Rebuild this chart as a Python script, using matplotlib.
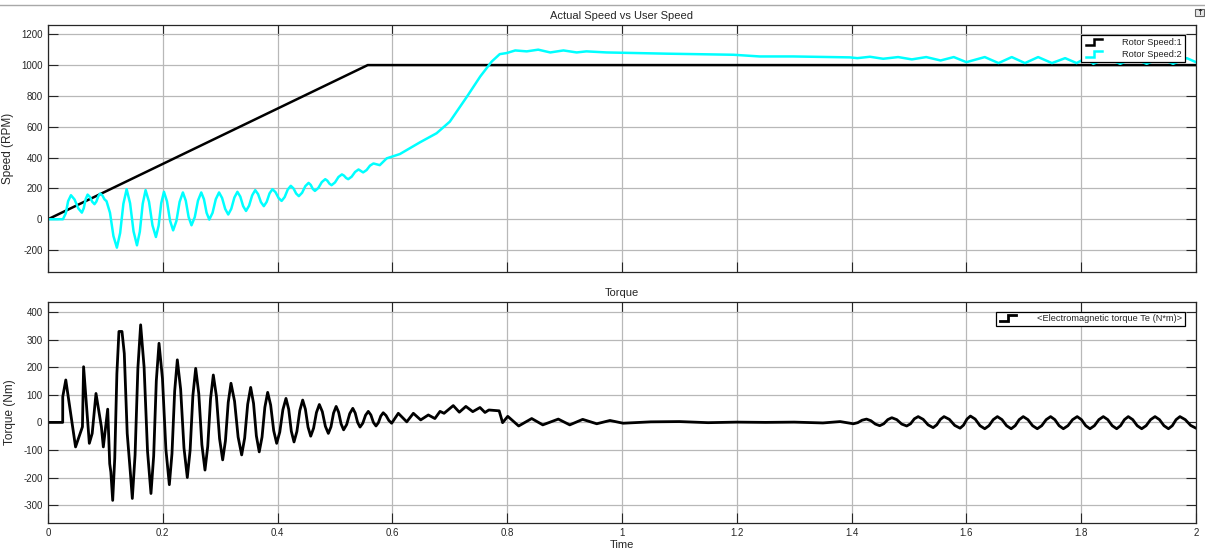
import matplotlib
matplotlib.use("Agg")
import matplotlib.pyplot as plt
from matplotlib.lines import Line2D
from matplotlib.patches import Rectangle
from matplotlib.legend_handler import HandlerBase

# ---------------- data ----------------
ref_t = [0.0, 0.557, 2.0]
ref_speed = [0, 1000, 1000]

speed_t = [0.0, 0.026, 0.031, 0.035, 0.040, 0.0463, 0.0527, 0.059, 0.0623, 0.0657,
           0.069, 0.073, 0.077, 0.081, 0.0843, 0.0877, 0.091, 0.0947, 0.0983, 0.102,
           0.108, 0.114, 0.120, 0.1257, 0.1313, 0.137, 0.143, 0.149, 0.155, 0.160,
           0.165, 0.170, 0.176, 0.182, 0.188, 0.1927, 0.1973, 0.202, 0.2073, 0.2127,
           0.218, 0.2237, 0.2293, 0.235, 0.240, 0.245, 0.250, 0.2557, 0.2613, 0.267,
           0.2717, 0.2763, 0.281, 0.2867, 0.2923, 0.298, 0.3033, 0.3087, 0.314, 0.3193,
           0.3247, 0.330, 0.335, 0.340, 0.345, 0.3503, 0.3557, 0.361, 0.366, 0.371,
           0.376, 0.381, 0.386, 0.391, 0.3963, 0.4017, 0.407, 0.4123, 0.4177, 0.423,
           0.4277, 0.4323, 0.437, 0.4427, 0.4483, 0.454, 0.4577, 0.4613, 0.465, 0.471,
           0.477, 0.483, 0.4867, 0.4903, 0.494, 0.500, 0.506, 0.512, 0.5157, 0.5193,
           0.523, 0.529, 0.535, 0.541, 0.549, 0.555, 0.561, 0.567, 0.578, 0.590,
           0.613, 0.625, 0.648, 0.677, 0.700, 0.730, 0.753, 0.773, 0.787, 0.799,
           0.814, 0.834, 0.854, 0.875, 0.898, 0.921, 0.938, 0.973, 1.078, 1.194,
           1.240, 1.298, 1.397, 1.410, 1.432, 1.455, 1.481, 1.505, 1.530, 1.555,
           1.578, 1.600, 1.632, 1.656, 1.679, 1.702, 1.725, 1.749, 1.772, 1.792,
           1.808, 1.821, 1.845, 1.868, 1.891, 1.914, 1.937, 1.960, 1.984, 2.000]
speed_rpm = [0, 0, 39, 117, 156, 128, 71, 43, 72, 131,
             160, 145, 114, 98, 115, 150, 167, 155, 130, 117,
             42, -109, -184, -89, 100, 195, 104, -78, -169, -80,
             100, 189, 113, -39, -115, -42, 105, 178, 116, -10,
             -72, -11, 113, 174, 121, 14, -39, 14, 121, 174,
             130, 42, -2, 42, 130, 174, 138, 67, 31, 68,
             141, 178, 147, 85, 54, 88, 155, 189, 163, 111,
             85, 113, 168, 195, 176, 138, 119, 144, 193, 217,
             200, 167, 150, 172, 215, 236, 223, 197, 184, 203,
             241, 260, 250, 231, 221, 239, 274, 291, 283, 268,
             260, 276, 307, 323, 304, 319, 348, 362, 351, 395,
             423, 449, 499, 558, 633, 796, 926, 1023, 1071, 1078,
             1095, 1089, 1100, 1082, 1095, 1082, 1089, 1082, 1074, 1067,
             1056, 1056, 1050, 1045, 1054, 1041, 1052, 1037, 1052, 1030,
             1052, 1019, 1052, 1013, 1052, 1013, 1052, 1013, 1045, 1013,
             1045, 1008, 1045, 1008, 1045, 1008, 1045, 1008, 1045, 1019]

torque_t = [0.0, 0.0256, 0.0257, 0.031, 0.048, 0.060, 0.0615, 0.062, 0.072, 0.077,
            0.0836, 0.093, 0.0964, 0.104, 0.1075, 0.1095, 0.1127, 0.1163, 0.1200, 0.1236,
            0.1289, 0.1329, 0.138, 0.1434, 0.1469, 0.1517, 0.1566, 0.1614, 0.1674, 0.1734,
            0.1794, 0.1841, 0.1887, 0.1934, 0.1994, 0.2054, 0.2114, 0.2160, 0.2207, 0.2253,
            0.2311, 0.2369, 0.2427, 0.2476, 0.2524, 0.2573, 0.2627, 0.2681, 0.2735, 0.2783,
            0.2832, 0.288, 0.2934, 0.2989, 0.3043, 0.3091, 0.3140, 0.3188, 0.3250, 0.3312,
            0.3374, 0.3426, 0.3479, 0.3531, 0.3581, 0.3630, 0.368, 0.3729, 0.3778, 0.3827,
            0.3879, 0.3932, 0.3984, 0.4038, 0.4092, 0.4146, 0.4193, 0.4239, 0.4286, 0.4336,
            0.4387, 0.4437, 0.4484, 0.4530, 0.4577, 0.4627, 0.4677, 0.4727, 0.4779, 0.4832,
            0.4884, 0.4930, 0.4975, 0.502, 0.5063, 0.5107, 0.515, 0.5203, 0.5257, 0.531,
            0.5352, 0.5394, 0.5436, 0.5484, 0.5532, 0.558, 0.5625, 0.5669, 0.5714, 0.5756,
            0.5798, 0.584, 0.5889, 0.5938, 0.5987, 0.6103, 0.625, 0.6365, 0.6493, 0.6626,
            0.674, 0.683, 0.690, 0.706, 0.7166, 0.728, 0.740, 0.7526, 0.7613, 0.768,
            0.786, 0.792, 0.801, 0.820, 0.8427, 0.862, 0.889, 0.909, 0.9315, 0.956,
            0.979, 1.002, 1.05, 1.10, 1.15, 1.20, 1.25, 1.30, 1.35, 1.380,
            1.403, 1.4107, 1.4183, 1.426, 1.4337, 1.4413, 1.449, 1.456, 1.463, 1.470,
            1.4787, 1.4873, 1.496, 1.5027, 1.5093, 1.516, 1.5247, 1.5333, 1.542, 1.5483,
            1.5547, 1.561, 1.5703, 1.5797, 1.589, 1.595, 1.601, 1.607, 1.6153, 1.6237,
            1.632, 1.6393, 1.6467, 1.654, 1.662, 1.670, 1.678, 1.685, 1.692, 1.699,
            1.7072, 1.7153, 1.7235, 1.7312, 1.739, 1.7467, 1.7541, 1.7615, 1.7689, 1.7769,
            1.785, 1.793, 1.8004, 1.8079, 1.8153, 1.8230, 1.8308, 1.8385, 1.8463, 1.854,
            1.8618, 1.8685, 1.8753, 1.882, 1.8898, 1.8976, 1.9054, 1.9131, 1.9209, 1.9286,
            1.9364, 1.9442, 1.952, 1.9587, 1.9653, 1.972, 1.9813, 1.9907, 2.0]
torque_nm = [0, 0, 93, 154, -89, -16, 150, 202, -76, -40,
             105, -16, -89, 48, -150, -180, -283, -130, 177, 330,
             330, 250, -40, -180, -276, -118, 197, 354, 201, -105,
             -258, -122, 151, 287, 159, -98, -226, -113, 114, 227,
             120, -93, -200, -101, 97, 196, 104, -81, -173, -87,
             86, 172, 95, -59, -136, -67, 73, 142, 77, -53,
             -118, -57, 66, 127, 69, -49, -107, -53, 55, 109,
             63, -30, -76, -35, 46, 87, 48, -32, -71, -33,
             43, 81, 48, -17, -50, -21, 36, 65, 39, -14,
             -40, -16, 34, 58, 37, -6, -27, -8, 32, 51,
             34, 0, -17, -3, 26, 40, 27, 0, -13, -1,
             23, 35, 25, 7, -3, 33, 2, 33, 9, 27,
             14, 40, 33, 61, 37, 58, 39, 54, 36, 45,
             42, -1, 22, -13, 14, -9, 12, -9, 11, -5,
             7, -3, 2, 3, -1, 1, 0, 1, -2, 3,
             -5, -1, 8, 12, 6, -6, -12, -5, 10, 17,
             10, -6, -13, -5, 13, 21, 11, -9, -19, -9,
             11, 21, 11, -11, -21, -10, 12, 23, 12, -12,
             -23, -12, 10, 21, 10, -12, -23, -12, 10, 21,
             10, -12, -23, -12, 10, 21, 10, -12, -23, -12,
             10, 21, 10, -12, -23, -12, 10, 21, 10, -12,
             -23, -12, 10, 21, 10, -12, -23, -12, 10, 21,
             10, -12, -23, -12, 10, 21, 10, -11, -21]

x_ticks = [0, 0.2, 0.4, 0.6, 0.8, 1.0, 1.2, 1.4, 1.6, 1.8, 2.0]
x_tick_labels = ["0", "0.2", "0.4", "0.6", "0.8", "1", "1.2", "1.4", "1.6", "1.8", "2"]
speed_ticks = [-200, 0, 200, 400, 600, 800, 1000, 1200]
torque_ticks = [-300, -200, -100, 0, 100, 200, 300, 400]

# ---------------- style ----------------
plt.rcParams['font.family'] = ['Liberation Sans', 'DejaVu Sans']
plt.rcParams['axes.unicode_minus'] = False
TXT = '#262626'

W, H = 1205, 557
fig = plt.figure(figsize=(W / 100, H / 100), dpi=100)
fig.patch.set_facecolor('white')


def fx(px):
    return px / W


def fy(py):
    return 1 - py / H


ax1 = fig.add_axes([fx(48), fy(272), (1196 - 48) / W, (272 - 25) / H])
ax2 = fig.add_axes([fx(48), fy(522.7), (1196 - 48) / W, (522.7 - 301.7) / H])


class StepHandler(HandlerBase):
    def create_artists(self, legend, orig_handle, xdescent, ydescent,
                       width, height, fontsize, trans):
        x0 = -xdescent
        y0 = -ydescent
        xs = [x0 + 0.05 * width, x0 + 0.5 * width, x0 + 0.5 * width, x0 + 0.95 * width]
        ys = [y0 + 0.05 * height, y0 + 0.05 * height, y0 + 0.95 * height, y0 + 0.95 * height]
        ln = Line2D(xs, ys, color=orig_handle.get_color(),
                    lw=orig_handle.get_linewidth(), solid_joinstyle='miter')
        ln.set_transform(trans)
        return [ln]


def style(ax, yticks, ylim):
    ax.set_xlim(0, 2)
    ax.set_ylim(*ylim)
    ax.set_xticks(x_ticks)
    ax.set_yticks(yticks)
    ax.grid(True, color='#b8b8b8', lw=0.9)
    ax.set_axisbelow(True)
    ax.tick_params(direction='in', length=7.5, width=0.8, color='#262626',
                   top=True, right=True, labelsize=7, labelcolor=TXT, pad=4)
    for s in ax.spines.values():
        s.set_color('#262626')
        s.set_linewidth(0.9)


# top panel
style(ax1, speed_ticks, (-342, 1260))
ax1.set_xticklabels([])
l1, = ax1.plot(ref_t, ref_speed, color='black', lw=1.8, label='Rotor Speed:1')
l2, = ax1.plot(speed_t, speed_rpm, color='#00ffff', lw=1.8, label='Rotor Speed:2',
               solid_joinstyle='round')
ax1.set_title('Actual Speed vs User Speed', fontsize=8, color=TXT, pad=4)
ax1.set_ylabel('Speed (RPM)', fontsize=8.5, color=TXT, labelpad=5)
leg1 = ax1.legend(handles=[l1, l2], loc='upper right', bbox_to_anchor=(0.9904, 0.9595),
                  borderaxespad=0, fontsize=6.7, frameon=True, fancybox=False,
                  edgecolor='black', framealpha=1, handlelength=2.0, handletextpad=2.0,
                  borderpad=0.35, labelspacing=0.3,
                  handler_map={Line2D: StepHandler()})
leg1.get_frame().set_linewidth(0.9)
for t in leg1.get_texts():
    t.set_color(TXT)

# bottom panel
style(ax2, torque_ticks, (-364, 438))
ax2.set_xticklabels(x_tick_labels)
l3, = ax2.plot(torque_t, torque_nm, color='black', lw=2.0,
               label='<Electromagnetic torque Te (N*m)>', solid_joinstyle='round')
ax2.set_title('Torque', fontsize=8, color=TXT, pad=4)
ax2.set_ylabel('Torque (Nm)', fontsize=8.5, color=TXT, labelpad=5)
ax2.set_xlabel('Time', fontsize=8, color=TXT, labelpad=1)
leg2 = ax2.legend(handles=[l3], loc='upper right', bbox_to_anchor=(0.9904, 0.9548),
                  borderaxespad=0, fontsize=6.7, frameon=True, fancybox=False,
                  edgecolor='black', framealpha=1, handlelength=1.9, handletextpad=2.2,
                  borderpad=0.3, handler_map={Line2D: StepHandler()})
leg2.get_frame().set_linewidth(0.9)
for t in leg2.get_texts():
    t.set_color(TXT)

# window decoration: top separator and small icon
fig.add_artist(Line2D([0, 1], [fy(5), fy(5)], transform=fig.transFigure,
                      color='#a8a8a8', lw=1))
fig.add_artist(Rectangle((fx(1195), fy(16)), 9 / W, 7 / H, transform=fig.transFigure,
                         facecolor='#e8e8e8', edgecolor='#606060', lw=0.8))
fig.text(fx(1199.5), fy(12.5), '↑', fontsize=6, ha='center', va='center',
         color='black', family='DejaVu Sans')

fig.savefig('out.png', dpi=100, facecolor='white')
